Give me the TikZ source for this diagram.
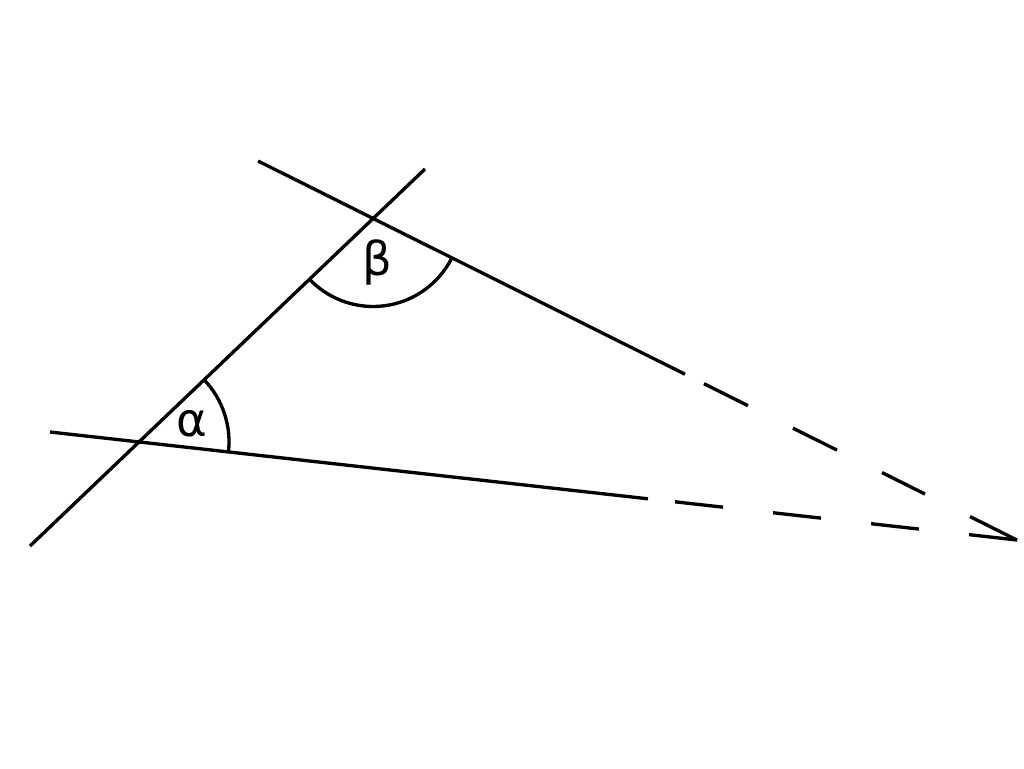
\documentclass[tikz,border=0pt]{standalone}
\usepackage{fontspec}
\setmainfont{DejaVu Sans}
\usetikzlibrary{calc}
\begin{document}
\begin{tikzpicture}[x=0.75pt,y=-0.75pt,
  ln/.style={line width=2.5pt,black},
  lbl/.style={font=\fontsize{35}{40}\selectfont,inner sep=0pt}]
\useasboundingbox (0,0) rectangle (1024,768);
% end points
\coordinate (T1) at (30,546);
\coordinate (T2) at (425,169);
\coordinate (U1) at (258,161);
\coordinate (L1) at (50,432);
\coordinate (E) at (1017,540);
% intersections
\coordinate (A) at (intersection of T1--T2 and L1--E);
\coordinate (B) at (intersection of T1--T2 and U1--E);
% transversal
\draw[ln] (T1) -- (T2);
% upper line, solid and dashed parts
\draw[ln] (U1) -- ($(U1)!0.5626!(E)$);
\foreach \a/\b in {0.5876/0.6456, 0.7049/0.7628, 0.8221/0.8788, 0.9381/1.0}
  \draw[ln] ($(U1)!\a!(E)$) -- ($(U1)!\b!(E)$);
% lower line, solid and dashed parts
\draw[ln] (L1) -- ($(L1)!0.6184!(E)$);
\foreach \a/\b in {0.6463/0.6960, 0.7477/0.7973, 0.8490/0.8986, 0.9504/1.0}
  \draw[ln] ($(L1)!\a!(E)$) -- ($(L1)!\b!(E)$);
% angle arcs (y axis points down, so angles are clockwise)
\draw[ln] ([shift={(-43.66:90)}]A) arc[start angle=-43.66,end angle=6.37,radius=90];
\draw[ln] ([shift={(26.53:88)}]B) arc[start angle=26.53,end angle=136.34,radius=88];
% labels
\node[lbl] (alpha) at (192,424) {α};
\node[lbl] (beta) at (377,262) {β};
\end{tikzpicture}
\end{document}
